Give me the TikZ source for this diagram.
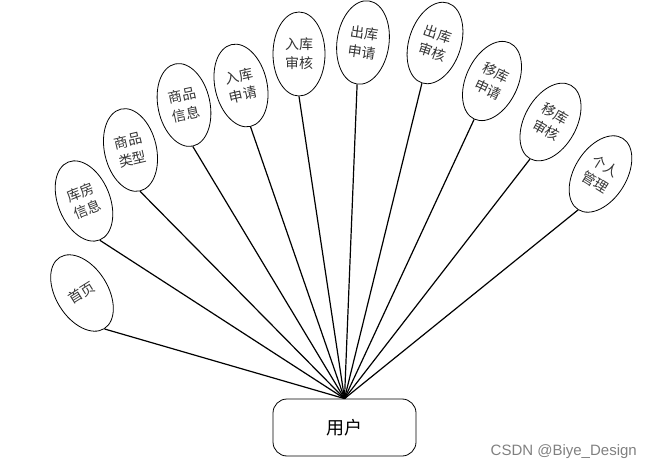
\documentclass[tikz,border=0pt]{standalone}
\usepackage{fontspec}
\setmainfont{Liberation Sans}
\newfontfamily\cjk{Noto Sans CJK SC}
\usetikzlibrary{shapes.geometric}
\tikzset{
  x=1pt, y=1pt,
  leaf/.style={ellipse, draw, line width=0.8pt, minimum width=52pt, minimum height=84pt,
    inner sep=0pt, align=center, font=\cjk\fontsize{14}{19}\selectfont, text=black!80},
  rootbox/.style={draw, rounded corners=14pt, line width=0.8pt, minimum width=143pt,
    minimum height=57pt, inner sep=0pt, font=\cjk\fontsize{18}{20}\selectfont},
  link/.style={line width=1.2pt}
}
\begin{document}
\begin{tikzpicture}
\useasboundingbox (0,0) rectangle (652,471);
\node[rootbox] (u) at (344.5,43.5) {用户};
\node[leaf, rotate=32]  (n1)  at (82,178)    {首页};
\node[leaf, rotate=22]  (n2)  at (84,270)    {库房\\信息};
\node[leaf, rotate=13]  (n3)  at (130.5,321) {商品\\类型};
\node[leaf, rotate=12]  (n4)  at (184,366)   {商品\\信息};
\node[leaf, rotate=13]  (n5)  at (241,385.5) {入库\\申请};
\node[leaf, rotate=0]   (n6)  at (299,417)   {入库\\审核};
\node[leaf, rotate=-8]  (n7)  at (363,428.5) {出库\\申请};
\node[leaf, rotate=-18] (n8)  at (435,428)   {出库\\审核};
\node[leaf, rotate=-25] (n9)  at (492,390)   {移库\\申请};
\node[leaf, rotate=-29] (n10) at (550.5,349) {移库\\审核};
\node[leaf, rotate=-32] (n11) at (600.5,297) {个人\\管理};
\foreach \n in {n1,n2,n3,n4,n5,n6,n7,n8,n9,n10,n11}
  \draw[link] (\n.south) -- (u.north);
\node[anchor=east, inner sep=0pt, text=black!50, font=\fontsize{15}{18}\selectfont] (wm) at (637,19) {CSDN @Biye\_Design};
\end{tikzpicture}
\end{document}
